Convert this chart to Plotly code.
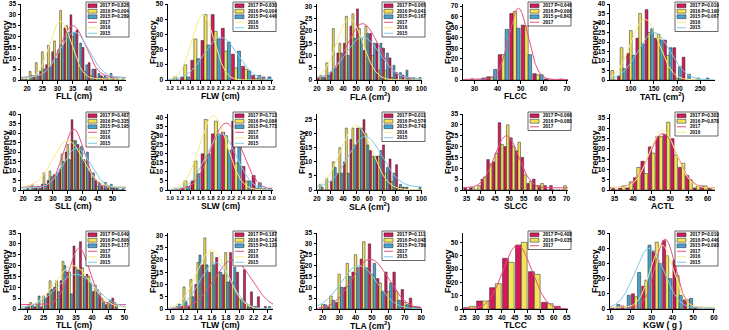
import numpy as np
import plotly.graph_objects as go

W, H = 729, 330
FONT = "Liberation Sans, Arial, sans-serif"

# ------------------------------------------------------------------ data
YEARS = ["2017", "2016", "2015"]
BAR_COL = {"2017": "#D31A5B", "2016": "#F2E35A", "2015": "#4AA3CF"}
LINE_COL = {"2017": "#E8507F", "2016": "#F6EC80", "2015": "#7CCBE8"}

# FLL
FLL_bins = [19, 21, 23, 25, 27, 29, 31, 33, 35, 37, 39, 41, 43, 45, 47, 49, 51]
FLL_2017 = [1, 0, 2, 4, 7, 13, 14, 24, 30, 23, 15, 8, 5, 2, 1, 1, 0]
FLL_2016 = [0, 4, 8, 13, 16, 18, 32, 25, 20, 8, 4, 2, 1, 1, 0, 0, 0]
FLL_2015 = [1, 2, 2, 5, 6, 10, 16, 22, 22, 17, 7, 5, 3, 2, 3, 1, 1]
FLL_fit = {"2017": (35, 4.2, 25, 1.2), "2016": (31, 3.6, 27, 0.5), "2015": (35.5, 4.8, 22, 1)}
FLL_p = ["P=0.828", "P=0.004", "P=0.289"]

# FLW
FLW_bins = [1.3, 1.5, 1.7, 1.9, 2.1, 2.3, 2.5, 2.7, 2.9, 3.1]
FLW_2017 = [0, 2, 13, 26, 43, 34, 17, 9, 3, 2]
FLW_2016 = [2, 10, 27, 43, 32, 19, 8, 7, 1, 0]
FLW_2015 = [0, 2, 14, 23, 27, 25, 19, 6, 3, 2]
FLW_fit = {"2016": (1.85, 0.22, 43, 0), "2015": (2.2, 0.33, 28, 0)}
FLW_p = ["P=0.830", "P=0.004", "P=0.446"]

# FLA
FLA_bins = [22.5, 27.5, 32.5, 37.5, 42.5, 47.5, 52.5, 57.5, 62.5, 67.5, 72.5, 77.5, 82.5, 87.5, 92.5, 97.5]
FLA_2017 = [1, 1, 3, 11, 15, 22, 29, 12, 19, 15, 13, 9, 3, 2, 1, 0]
FLA_2016 = [2, 7, 21, 15, 26, 27, 21, 22, 10, 4, 4, 1, 0, 0, 0, 0]
FLA_2015 = [1, 2, 5, 11, 10, 17, 17, 19, 15, 15, 11, 6, 3, 4, 1, 1]
FLA_fit = {"2017": (55, 12, 23, 0.5), "2016": (45, 10, 25, 0), "2015": (55, 13, 17.5, 0.5)}
FLA_p = ["P=0.065", "P=0.041", "P=0.167"]

# FLCC
FLCC_bins = [27.5, 32.5, 37.5, 42.5, 47.5, 52.5, 57.5, 62.5, 67.5]
FLCC_2017 = [0, 0, 3, 24, 63, 52, 6, 1, 0]
FLCC_2016 = [0, 0, 3, 24, 65, 51, 5, 0, 1]
FLCC_2015 = [1, 2, 10, 48, 49, 24, 5, 0, 0]
FLCC_fit = {"2017": (49, 4.2, 68, 0.5)}
FLCC_p = ["P=0.646", "P=0.006", "p=0.843"]

# TATL
TATL_bins = [60, 80, 100, 120, 140, 160, 180, 200, 220, 240, 260]
TATL_2017 = [0, 2, 14, 22, 37, 22, 21, 17, 12, 0, 0]
TATL_2016 = [5, 17, 26, 35, 25, 24, 13, 1, 0, 0, 0]
TATL_2015 = [0, 6, 13, 19, 27, 21, 17, 7, 3, 1, 1]
TATL_fit = {"2016": (130, 30, 32, 0), "2015": (150, 35, 25, 0)}
TATL_p = ["P=0.019", "P=0.190", "P=0.067"]

# SLL
SLL_bins = [21, 23, 25, 27, 29, 31, 33, 35, 37, 39, 41, 43, 45, 47, 49, 51, 53]
SLL_2017 = [0, 0, 1, 3, 5, 8, 11, 20, 37, 24, 16, 10, 5, 2, 1, 1, 0]
SLL_2016 = [0, 3, 2, 9, 10, 7, 19, 24, 26, 22, 15, 6, 2, 1, 2, 1, 0]
SLL_2015 = [1, 1, 1, 3, 7, 9, 15, 16, 26, 23, 20, 9, 4, 4, 3, 1, 1]
SLL_fit = {"2017": (37, 3.5, 32, 1.5), "2016": (35, 5, 26, 1.5), "2015": (38, 4.5, 22, 1)}
SLL_p = ["P=0.487", "P=0.335", "P=0.195"]

# SLW
SLW_bins = [1.1, 1.3, 1.5, 1.7, 1.9, 2.1, 2.3, 2.5, 2.7, 2.9]
SLW_2017 = [0, 1, 5, 20, 31, 32, 38, 13, 8, 1]
SLW_2016 = [1, 5, 16, 39, 38, 30, 15, 5, 1, 0]
SLW_2015 = [0, 2, 9, 20, 31, 22, 27, 5, 4, 1]
SLW_fit = {"2017": (2.1, 0.3, 37, 0), "2016": (1.85, 0.27, 41, 0), "2015": (2.0, 0.3, 31, 0)}
SLW_p = ["P=0.713", "P=0.084", "P=0.773"]

# SLA
SLA_bins = [22.5, 27.5, 32.5, 37.5, 42.5, 47.5, 52.5, 57.5, 62.5, 67.5, 72.5, 77.5, 82.5, 87.5, 92.5, 97.5]
SLA_2017 = [0, 0, 3, 6, 10, 18, 22, 25, 14, 12, 16, 11, 9, 1, 0, 0]
SLA_2016 = [2, 4, 10, 15, 22, 22, 22, 20, 12, 12, 6, 3, 1, 1, 0, 0]
SLA_2015 = [1, 0, 8, 6, 6, 16, 22, 16, 12, 14, 8, 6, 2, 1, 0, 1]
SLA_fit = {"2016": (50, 12, 23, 0), "2015": (57, 13, 19, 1)}
SLA_p = ["P=0.011", "P=0.574", "P=0.743"]

# SLCC
SLCC_bins = [35, 37, 39, 41, 43, 45, 47, 49, 51, 53, 55, 57, 59, 61, 63, 65, 67, 69]
SLCC_2017 = [1, 1, 0, 5, 14, 13, 31, 20, 24, 18, 15, 3, 5, 2, 2, 2, 0, 0]
SLCC_2016 = [0, 1, 2, 6, 12, 17, 21, 30, 20, 22, 7, 4, 2, 3, 0, 0, 0, 2]
SLCC_fit = {"2017": (49, 4.2, 25, 1)}
SLCC_p = ["P=0.066", "P=0.080"]

# ACTL
ACTL_bins = [35, 37, 39, 41, 43, 45, 47, 49, 51, 53, 55, 57, 59, 61]
ACTL_2017 = [1, 1, 1, 6, 14, 21, 26, 27, 25, 11, 7, 1, 2, 1]
ACTL_2016 = [0, 2, 4, 11, 8, 18, 26, 33, 17, 13, 5, 2, 2, 0]
ACTL_fit = {"2017": (48, 3.8, 27.5, 1), "2016": (48, 3.6, 29, 1)}
ACTL_p = ["P=0.303", "P=0.878"]

# TLL
TLL_bins = [19, 21, 23, 25, 27, 29, 31, 33, 35, 37, 39, 41, 43, 45, 47]
TLL_2017 = [0, 2, 1, 1, 7, 10, 13, 17, 29, 31, 16, 8, 7, 2, 5]
TLL_2016 = [0, 3, 2, 6, 13, 13, 22, 17, 19, 19, 15, 11, 5, 3, 3]
TLL_2015 = [1, 2, 6, 5, 9, 8, 20, 7, 18, 15, 12, 9, 3, 4, 2]
TLL_fit = {"2017": (36, 3.2, 28, 2), "2016": (34, 5.5, 20, 0.5), "2015": (35, 6, 16, 0.5)}
TLL_p = ["P=0.049", "P=0.806", "P=0.177"]

# TLW
TLW_bins = [1.1, 1.2, 1.3, 1.4, 1.5, 1.6, 1.7, 1.8, 1.9, 2.0, 2.1, 2.2, 2.3, 2.4]
TLW_2017 = [0, 1, 1, 10, 18, 15, 21, 14, 23, 15, 16, 7, 5, 1]
TLW_2016 = [1, 9, 12, 19, 29, 23, 15, 23, 11, 4, 2, 1, 0, 0]
TLW_2015 = [2, 3, 5, 22, 18, 18, 15, 11, 17, 4, 1, 1, 0, 1]
TLW_fit = {"2017": (1.9, 0.27, 20, 0), "2016": (1.6, 0.22, 24, 0), "2015": (1.65, 0.22, 19, 0)}
TLW_p = ["P=0.187", "P=0.124", "P=0.133"]

# TLA
TLA_bins = [20, 25, 30, 35, 40, 45, 50, 55, 60, 65, 70, 75, 80]
TLA_2017 = [0, 1, 3, 10, 17, 23, 30, 14, 17, 17, 9, 5, 1]
TLA_2016 = [2, 6, 16, 21, 25, 31, 16, 12, 8, 8, 3, 1, 0]
TLA_2015 = [2, 4, 10, 15, 19, 19, 21, 8, 12, 4, 2, 1, 1]
TLA_fit = {"2017": (49, 11, 23, 0), "2015": (42, 11, 20, 0)}
TLA_p = ["P=0.111", "P=0.048", "P=0.789"]

# TLCC
TLCC_bins = [27.5, 32.5, 37.5, 42.5, 47.5, 52.5, 57.5, 62.5]
TLCC_2017 = [1, 6, 16, 38, 48, 28, 5, 2]
TLCC_2016 = [2, 6, 19, 35, 50, 26, 4, 0]
TLCC_fit = {"2017": (46, 5.5, 48, 0)}
TLCC_p = ["P=0.408", "P=0.035"]

# KGW
KGW_bins = [12.5, 17.5, 22.5, 27.5, 32.5, 37.5, 42.5, 47.5, 52.5, 57.5]
KGW_2017 = [1, 2, 10, 15, 38, 45, 32, 6, 1, 0]
KGW_2016 = [0, 0, 8, 19, 44, 35, 22, 6, 0, 1]
KGW_2015 = [3, 9, 24, 42, 30, 20, 9, 7, 0, 0]
KGW_fit = {"2017": (36.5, 4.8, 46, 1), "2016": (35, 5.5, 42, 1), "2015": (29, 7, 40, 0.5)}
KGW_p = ["P=0.019", "P=0.446", "P=0.093"]

PANELS = [
    dict(title="FLL (cm)", bins=FLL_bins, series=[FLL_2017, FLL_2016, FLL_2015], fit=FLL_fit, p=FLL_p,
         lines=["2017", "2016", "2015"], xr=[18, 52.5], xt=[20, 25, 30, 35, 40, 45, 50], yr=[0, 35], yt=list(range(0, 36, 5))),
    dict(title="FLW (cm)", bins=FLW_bins, series=[FLW_2017, FLW_2016, FLW_2015], fit=FLW_fit, p=FLW_p,
         lines=["2016", "2015"], xr=[1.16, 3.23], xt=[1.2, 1.4, 1.6, 1.8, 2.0, 2.2, 2.4, 2.6, 2.8, 3.0, 3.2], yr=[0, 50], yt=list(range(0, 51, 10))),
    dict(title="FLA (cm<sup>2</sup>)", bins=FLA_bins, series=[FLA_2017, FLA_2016, FLA_2015], fit=FLA_fit, p=FLA_p,
         lines=["2017", "2016", "2015"], xr=[20, 100.5], xt=list(range(20, 101, 10)), yr=[0, 31], yt=list(range(0, 31, 5))),
    dict(title="FLCC", bins=FLCC_bins, series=[FLCC_2017, FLCC_2016, FLCC_2015], fit=FLCC_fit, p=FLCC_p,
         lines=["2017"], xr=[25, 70.5], xt=[30, 40, 50, 60, 70], yr=[0, 72], yt=list(range(0, 71, 10))),
    dict(title="TATL (cm<sup>2</sup>)", bins=TATL_bins, series=[TATL_2017, TATL_2016, TATL_2015], fit=TATL_fit, p=TATL_p,
         lines=["2016", "2015"], xr=[55, 282], xt=[100, 150, 200, 250], yr=[0, 40], yt=list(range(0, 41, 5))),
    dict(title="SLL (cm)", bins=SLL_bins, series=[SLL_2017, SLL_2016, SLL_2015], fit=SLL_fit, p=SLL_p,
         lines=["2017", "2016", "2015"], xr=[19.3, 54.5], xt=[20, 25, 30, 35, 40, 45, 50], yr=[0, 40], yt=list(range(0, 41, 5))),
    dict(title="SLW (cm)", bins=SLW_bins, series=[SLW_2017, SLW_2016, SLW_2015], fit=SLW_fit, p=SLW_p,
         lines=["2017", "2016", "2015"], xr=[0.96, 3.02], xt=[1.0, 1.2, 1.4, 1.6, 1.8, 2.0, 2.2, 2.4, 2.6, 2.8, 3.0], yr=[0, 42], yt=list(range(0, 41, 5))),
    dict(title="SLA (cm<sup>2</sup>)", bins=SLA_bins, series=[SLA_2017, SLA_2016, SLA_2015], fit=SLA_fit, p=SLA_p,
         lines=["2016", "2015"], xr=[20, 100.5], xt=list(range(20, 101, 10)), yr=[0, 27], yt=list(range(0, 26, 5))),
    dict(title="SLCC", bins=SLCC_bins, series=[SLCC_2017, SLCC_2016], fit=SLCC_fit, p=SLCC_p,
         lines=["2017"], xr=[33.8, 70.5], xt=[35, 40, 45, 50, 55, 60, 65, 70], yr=[0, 35], yt=list(range(0, 36, 5))),
    dict(title="ACTL", bins=ACTL_bins, series=[ACTL_2017, ACTL_2016], fit=ACTL_fit, p=ACTL_p,
         lines=["2017", "2016"], xr=[33.8, 62], xt=[35, 40, 45, 50, 55, 60], yr=[0, 37], yt=list(range(0, 36, 5))),
    dict(title="TLL (cm)", bins=TLL_bins, series=[TLL_2017, TLL_2016, TLL_2015], fit=TLL_fit, p=TLL_p,
         lines=["2017", "2016", "2015"], xr=[18, 50.5], xt=[20, 25, 30, 35, 40, 45, 50], yr=[0, 35], yt=list(range(0, 36, 5))),
    dict(title="TLW (cm)", bins=TLW_bins, series=[TLW_2017, TLW_2016, TLW_2015], fit=TLW_fit, p=TLW_p,
         lines=["2017", "2016", "2015"], xr=[0.97, 2.48], xt=[1.0, 1.2, 1.4, 1.6, 1.8, 2.0, 2.2, 2.4], yr=[0, 31], yt=list(range(0, 31, 5))),
    dict(title="TLA (cm<sup>2</sup>)", bins=TLA_bins, series=[TLA_2017, TLA_2016, TLA_2015], fit=TLA_fit, p=TLA_p,
         lines=["2017", "2015"], xr=[16.5, 80.5], xt=list(range(20, 81, 10)), yr=[0, 35], yt=list(range(0, 36, 5))),
    dict(title="TLCC", bins=TLCC_bins, series=[TLCC_2017, TLCC_2016], fit=TLCC_fit, p=TLCC_p,
         lines=["2017"], xr=[25, 65.5], xt=list(range(25, 66, 5)), yr=[0, 57], yt=list(range(0, 51, 10))),
    dict(title="KGW ( g )", bins=KGW_bins, series=[KGW_2017, KGW_2016, KGW_2015], fit=KGW_fit, p=KGW_p,
         lines=["2017", "2016", "2015"], xr=[10, 60.5], xt=list(range(10, 61, 10)), yr=[0, 50], yt=list(range(0, 51, 10))),
]

# ------------------------------------------------------------------ layout geometry (pixels)
COL_L = [21, 168, 317, 463, 610]
COL_W = 105
ROWS = [(4, 80), (114, 190), (233, 309)]

fig = go.Figure()
layout = dict(width=W, height=H, margin=dict(l=0, r=0, t=0, b=0), paper_bgcolor="white",
              plot_bgcolor="white", barmode="group", bargap=0.1, bargroupgap=0.0,
              showlegend=False, font=dict(family=FONT, color="black"))
shapes, annos = [], []


def px(x):
    return x / W


def py(y):
    return 1 - y / H


TITLEF = dict(family=FONT, size=8.6, color="black", weight="bold")
LEGF = dict(family=FONT, size=4.6, color="black", weight="bold")

for i, p in enumerate(PANELS):
    n = i + 1
    r, c = divmod(i, 5)
    left, right = COL_L[c], COL_L[c] + COL_W
    top, bot = ROWS[r]
    xa = "x" if n == 1 else f"x{n}"
    ya = "y" if n == 1 else f"y{n}"
    for yr, vals in zip(YEARS, p["series"]):
        fig.add_trace(go.Bar(x=p["bins"], y=vals, xaxis=xa, yaxis=ya,
                             marker=dict(color=BAR_COL[yr], line=dict(color="#222222", width=0.5)),
                             hoverinfo="x+y", name=yr))
    for yr in p["lines"]:
        m, s, a, b = p["fit"][yr]
        xs = np.linspace(p["xr"][0], p["xr"][1], 240)
        ys = b + (a - b) * np.exp(-0.5 * ((xs - m) / s) ** 2)
        fig.add_trace(go.Scatter(x=xs, y=ys, mode="lines", xaxis=xa, yaxis=ya,
                                 line=dict(color=LINE_COL[yr], width=1), name=yr))
    many = len(p["xt"]) > 9
    xtf = dict(family=FONT, size=5.6 if many else 6.6, color="black", weight="bold")
    ytf = dict(family=FONT, size=6.6, color="black", weight="bold")
    layout["xaxis" + ("" if n == 1 else str(n))] = dict(
        domain=[px(left), px(right)], anchor=ya, range=p["xr"], tickvals=p["xt"],
        ticktext=[(f"{v:.1f}" if isinstance(v, float) else str(v)) for v in p["xt"]],
        tickangle=0,
        showline=True, linecolor="black", linewidth=1, ticks="outside", ticklen=2.5,
        tickwidth=1, tickcolor="black", showgrid=False, zeroline=False, tickfont=xtf,
        automargin=False, fixedrange=True)
    layout["yaxis" + ("" if n == 1 else str(n))] = dict(
        domain=[py(bot), py(top)], anchor=xa, range=p["yr"], tickvals=p["yt"],
        showline=True, linecolor="black", linewidth=1, ticks="outside", ticklen=2.5,
        tickwidth=1, tickcolor="black", showgrid=False, zeroline=False, tickfont=ytf,
        automargin=False, fixedrange=True)

    # axis titles
    annos.append(dict(xref="paper", yref="paper", x=px((left + right) / 2), y=py(bot + 16.3), text=p["title"],
                      showarrow=False, xanchor="center", yanchor="middle", font=TITLEF))
    annos.append(dict(xref="paper", yref="paper", x=px(left - 15), y=py((top + bot) / 2), text="Frequency",
                      textangle=-90, showarrow=False, xanchor="center", yanchor="middle", font=TITLEF))

    # legend box
    entries = [("bar", yr, f"{yr} {pt}") for yr, pt in zip(YEARS, p["p"])] + \
              [("line", yr, yr) for yr in p["lines"]]
    rh = 5.5
    bw = 43
    x1 = right + 3
    x0 = x1 - bw
    y0 = top - 2
    y1 = y0 + rh * len(entries) + 2
    shapes.append(dict(type="rect", xref="paper", yref="paper", x0=px(x0), x1=px(x1), y0=py(y1), y1=py(y0),
                       line=dict(color="black", width=0.6), fillcolor="white", layer="above"))
    for k, (kind, yr, txt) in enumerate(entries):
        cy = y0 + 1 + rh * (k + 0.5)
        if kind == "bar":
            shapes.append(dict(type="rect", xref="paper", yref="paper", x0=px(x0 + 2), x1=px(x0 + 11),
                               y0=py(cy + 1.9), y1=py(cy - 1.9), fillcolor=BAR_COL[yr],
                               line=dict(color="#222222", width=0.5), layer="above"))
        else:
            shapes.append(dict(type="line", xref="paper", yref="paper", x0=px(x0 + 2), x1=px(x0 + 11),
                               y0=py(cy), y1=py(cy), line=dict(color=LINE_COL[yr], width=1), layer="above"))
        annos.append(dict(xref="paper", yref="paper", x=px(x0 + 12.5), y=py(cy), text=txt, showarrow=False,
                          xanchor="left", yanchor="middle", font=LEGF))

layout["shapes"] = shapes
layout["annotations"] = annos
fig.update_layout(**layout)
fig.write_html("out.html", config={"displayModeBar": False},
               post_script="document.body.style.margin='0';document.body.style.overflow='hidden';")
